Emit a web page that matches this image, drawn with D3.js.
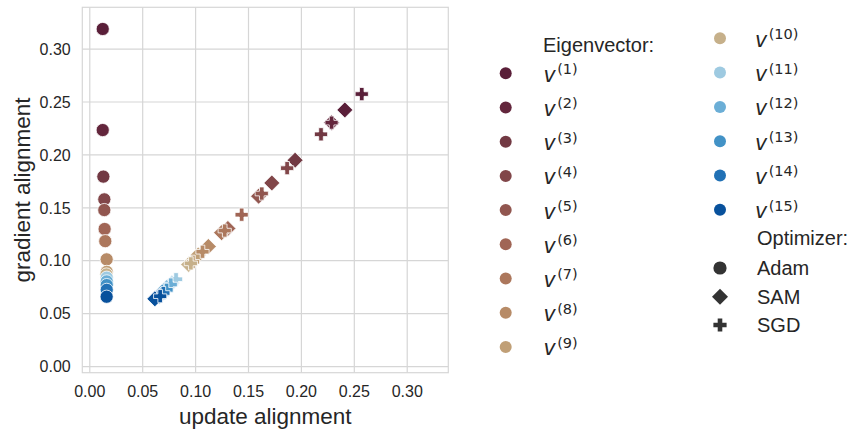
<!DOCTYPE html>
<html>
<head>
<meta charset="utf-8">
<script src="https://cdn.jsdelivr.net/npm/d3@7"></script>
<style>
  body { margin: 0; background: #fff; }
  svg text { font-family: "Liberation Sans", Arial, sans-serif; fill: #262626; }
</style>
</head>
<body>
<svg id="chart" width="855" height="432"></svg>
<script>
// eigenvector index and colours
var eigen = ["1","2","3","4","5","6","7","8","9","10","11","12","13","14","15"];
var colors = ["#5a1f39","#63263c","#723943","#814649","#91564f","#a06555","#ac775c",
              "#b78b67","#c09f76","#c6b08a","#9ecae1","#6baed6","#4292c6","#2171b5","#08519c"];

// Adam
var adamX = [0.0127,0.0127,0.0133,0.0142,0.0142,0.0145,0.0151,0.0164,0.0165,0.0162,0.0165,0.0165,0.0165,0.0165,0.0164];
var adamY = [0.3185,0.223,0.179,0.1575,0.1474,0.1295,0.118,0.1008,0.089,0.0865,0.0835,0.080,0.0765,0.072,0.0655];
// SAM
var samX = [0.2415,0.229,0.1945,0.1725,0.160,0.131,0.125,0.1125,0.103,0.094,0.078,0.073,0.069,0.066,0.062];
var samY = [0.242,0.230,0.1945,0.173,0.1605,0.130,0.126,0.113,0.105,0.096,0.0785,0.074,0.070,0.066,0.0635];
// SGD
var sgdX = [0.2575,0.229,0.219,0.187,0.163,0.144,0.128,0.107,0.098,0.096,0.082,0.077,0.073,0.070,0.067];
var sgdY = [0.257,0.230,0.219,0.187,0.163,0.143,0.128,0.108,0.0985,0.097,0.082,0.077,0.072,0.069,0.066];

var optimizers = ["Adam","SAM","SGD"];
var ticks = [0,0.05,0.10,0.15,0.20,0.25,0.30];

var svg = d3.select("#chart");
var pLeft = 82.3, pRight = 448.3, pTop = 7.3, pBottom = 372.7;

var x = d3.scaleLinear().domain([-0.0066, 0.3393]).range([pLeft, pRight]);
var y = d3.scaleLinear().domain([-0.0063, 0.339]).range([pBottom, pTop]);

// grid
svg.append("g")
  .attr("transform", "translate(0," + pBottom + ")")
  .call(d3.axisBottom(x).tickValues(ticks).tickSize(-(pBottom - pTop)).tickPadding(10).tickFormat(d3.format(".2f")))
  .call(function(g){
    g.select(".domain").remove();
    g.selectAll("line").attr("stroke","#d6d6d6").attr("stroke-width",1.2);
    g.selectAll("text").attr("font-size","16px").attr("fill","#262626").attr("dy","0.71em")
      .attr("y", 13);
  });
svg.append("g")
  .attr("transform", "translate(" + pLeft + ",0)")
  .call(d3.axisLeft(y).tickValues(ticks).tickSize(-(pRight - pLeft)).tickPadding(11.6).tickFormat(d3.format(".2f")))
  .call(function(g){
    g.select(".domain").remove();
    g.selectAll("line").attr("stroke","#d6d6d6").attr("stroke-width",1.2);
    g.selectAll("text").attr("font-size","16px").attr("fill","#262626").attr("dy","0.36em");
  });

svg.append("rect")
  .attr("x", pLeft).attr("y", pTop)
  .attr("width", pRight - pLeft).attr("height", pBottom - pTop)
  .attr("fill","none").attr("stroke","#d6d6d6").attr("stroke-width",1.2);

// axis labels
svg.append("text")
  .attr("x", (pLeft + pRight) / 2).attr("y", 424)
  .attr("text-anchor","middle").attr("font-size","22.5px")
  .text("update alignment");
svg.append("text")
  .attr("transform","translate(30," + (pTop + pBottom) / 2 + ") rotate(-90)")
  .attr("text-anchor","middle").attr("font-size","22.5px")
  .text("gradient alignment");

// markers
function plusPath(h, t) {
  return "M" + (-t) + "," + (-h) + "H" + t + "V" + (-t) + "H" + h + "V" + t + "H" + t +
         "V" + h + "H" + (-t) + "V" + t + "H" + (-h) + "V" + (-t) + "H" + (-t) + "Z";
}
function diamondPath(r) {
  return "M0," + (-r) + "L" + r + ",0L0," + r + "L" + (-r) + ",0Z";
}
function shape(sel, opt) {
  if (opt === "Adam") {
    sel.append("circle").attr("r", 6.6);
  } else if (opt === "SAM") {
    sel.append("path").attr("d", diamondPath(8));
  } else {
    sel.append("path").attr("d", plusPath(6.6, 2.3));
  }
}

var points = [];
[[adamX, adamY], [samX, samY], [sgdX, sgdY]].forEach(function(p, k){
  eigen.forEach(function(e, i){
    points.push({opt: optimizers[k], i: i, x: p[0][i], y: p[1][i]});
  });
});

var pg = svg.append("g");
points.forEach(function(d){
  var g = pg.append("g").attr("transform","translate(" + x(d.x) + "," + y(d.y) + ")");
  shape(g, d.opt);
  g.selectAll("*").attr("fill", colors[d.i]).attr("stroke","#fff").attr("stroke-width",0.8);
});

// legend
var leg = svg.append("g");
leg.append("text").attr("x", 543).attr("y", 52).attr("font-size","20px").text("Eigenvector:");

function vLabel(tx, ty, e) {
  var t = leg.append("text").attr("x", tx).attr("y", ty);
  t.append("tspan").attr("font-family","DejaVu Sans").attr("font-style","italic")
    .attr("font-size","20.5px").text("v");
  t.append("tspan").attr("font-family","DejaVu Sans").attr("font-size","14.5px")
    .attr("dx", 1.5).attr("dy", -7.5).text("(" + e + ")");
}

eigen.forEach(function(e, i){
  var mx, my, tx;
  if (i < 9) { mx = 505.7; my = 73.3 + 34.2 * i; tx = 543.5; }
  else { mx = 720; my = 38.3 + 34.3 * (i - 9); tx = 755; }
  leg.append("circle").attr("cx", mx).attr("cy", my).attr("r", 6).attr("fill", colors[i]);
  vLabel(tx, my + 8.4, e);
});

leg.append("text").attr("x", 757).attr("y", 245).attr("font-size","20px").text("Optimizer:");
var optY = [268, 296.7, 325];
optimizers.forEach(function(o, k){
  var g = leg.append("g").attr("transform","translate(720," + optY[k] + ")");
  shape(g, o);
  g.selectAll("*").attr("fill","#333333").attr("stroke","none");
  leg.append("text").attr("x", 757).attr("y", optY[k] + 7.2).attr("font-size","20px").text(o);
});
</script>
</body>
</html>
